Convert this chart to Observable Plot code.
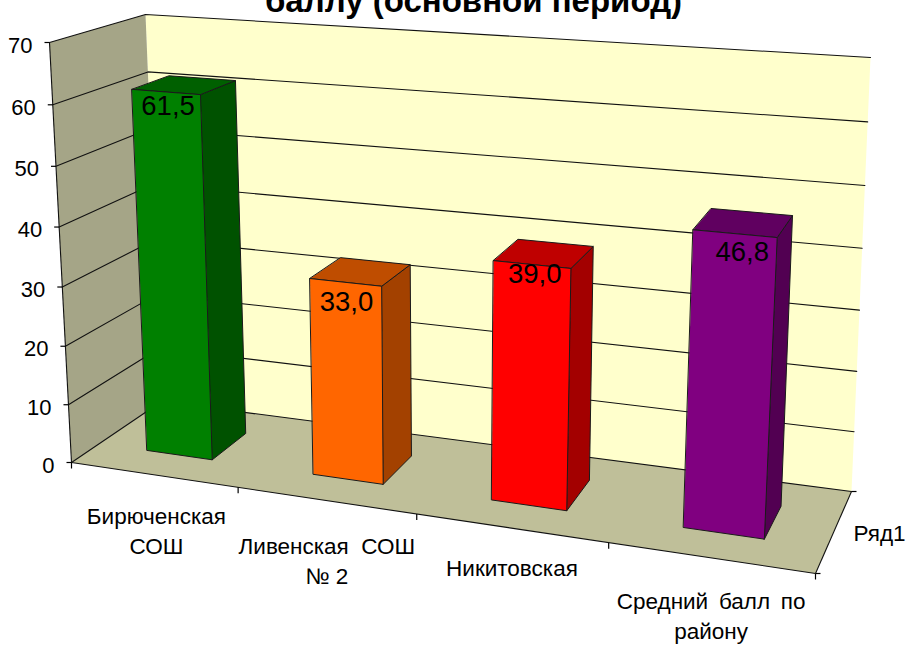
<!DOCTYPE html>
<html>
<head>
<meta charset="utf-8">
<script src="https://cdn.jsdelivr.net/npm/d3@7"></script>
<script src="https://cdn.jsdelivr.net/npm/@observablehq/plot@0.6"></script>
<style>
html,body{margin:0;padding:0;background:#fff;overflow:hidden}
svg{display:block}
</style>
</head>
<body>
<div id="chart"></div>
<script>
// ---------- data ----------
const categories = ["Бирюченская\nСОШ", "Ливенская\u00a0\u00a0СОШ\n№ 2", "Никитовская", "Средний\u00a0\u2009балл\u00a0\u2009по\nрайону"];
const values = [61.5, 33.0, 39.0, 46.8];
const valueLabels = ["61,5", "33,0", "39,0", "46,8"];
const valueTicks = [0, 10, 20, 30, 40, 50, 60, 70];
const seriesName = "Ряд1";
const title = "баллу (основной период)";

// ---------- style ----------
const frontColors = ["#008000", "#ff6600", "#ff0000", "#800080"];
const topColors = ["#006000", "#bf4d00", "#bf0000", "#600060"];
const sideColors = ["#005200", "#a34100", "#a30000", "#520052"];
const wallColor = "#ffffcc", sideWallColor = "#a5a587", floorColor = "#bfbf99";
const font = "Liberation Sans, Arial, sans-serif";

// ---------- box seen in perspective: the 3D scale of the chart ----------
const box = {
  fb0: [71, 462], fb1: [815, 573], bb0: [161, 401], bb1: [851, 491],
  ft0: [49, 42], ft1: [840, 98], bt0: [145, 14], bt1: [870, 57]
};
const vMax = 70;
const warp = (t, k) => t / (1 + k * (1 - t));
const mix = (a, b, t) => [a[0] + (b[0] - a[0]) * t, a[1] + (b[1] - a[1]) * t];
function project(c, v, w) {
  const u = warp(c, 0.155), h = warp(v / vMax, 0.045);
  const bottom = mix(mix(box.fb0, box.fb1, u), mix(box.bb0, box.bb1, u), w);
  const top = mix(mix(box.ft0, box.ft1, u), mix(box.bt0, box.bt1, u), w);
  return mix(bottom, top, h);
}
const n = categories.length;
const halfWidth = 0.05, depth0 = 0.31, depth1 = 0.72;

// ---------- polygons ----------
const polys = [];
function poly(id, fill, corners) {
  corners.forEach(([c, v, w]) => {
    const [x, y] = project(c, v, w);
    polys.push({id, fill, x, y});
  });
}
poly("back", wallColor, [[0, 0, 1], [1, 0, 1], [1, vMax, 1], [0, vMax, 1]]);
poly("left", sideWallColor, [[0, 0, 0], [0, 0, 1], [0, vMax, 1], [0, vMax, 0]]);
poly("floor", floorColor, [[0, 0, 0], [1, 0, 0], [1, 0, 1], [0, 0, 1]]);

const barPolys = [];
values.forEach((v, i) => {
  const c = (i + 0.5) / n, a = c - halfWidth, b = c + halfWidth;
  const face = (id, fill, corners) => corners.forEach(([cc, vv, ww]) => {
    const [x, y] = project(cc, vv, ww);
    barPolys.push({id: id + i, fill, x, y});
  });
  face("side", sideColors[i], [[b, 0, depth0], [b, 0, depth1], [b, v, depth1], [b, v, depth0]]);
  face("top", topColors[i], [[a, v, depth0], [b, v, depth0], [b, v, depth1], [a, v, depth1]]);
  face("front", frontColors[i], [[a, 0, depth0], [b, 0, depth0], [b, v, depth0], [a, v, depth0]]);
});

// ---------- grid lines, axis lines, ticks ----------
const grid = valueTicks.flatMap(v => [[0, v, 0], [0, v, 1], [1, v, 1]].map(p => {
  const [x, y] = project(...p);
  return {v, x, y};
}));
const frame = [
  [[0, 0, 0], [0, vMax, 0]],
  [[0, 0, 0], [1, 0, 0]],
  [[1, 0, 0], [1, 0, 1]]
].map(([p, q]) => {
  const a = project(...p), b = project(...q);
  return {x1: a[0], y1: a[1], x2: b[0], y2: b[1]};
});
const ticks = [];
valueTicks.forEach(v => {
  const [x, y] = project(0, v, 0);
  ticks.push({x1: x - 5, y1: y, x2: x, y2: y});
});
d3.range(n + 1).forEach(i => {
  const [x, y] = project(i / n, 0, 0);
  ticks.push({x1: x, y1: y, x2: x, y2: y + 6});
});
[0, 1].forEach(w => {
  const [x, y] = project(1, 0, w);
  ticks.push({x1: x, y1: y, x2: x + 5, y2: y});
});

// ---------- text ----------
const yLabels = valueTicks.map(v => {
  const [x, y] = project(0, v, 0);
  return {text: String(v), x: x - 17, y: y + 3};
});
const catNudgeX = [3, 1, 1, 1];
const catNudgeY = [28, 32, 27, 30];
const catLabels = categories.map((text, i) => {
  const [x, y] = project((i + 0.5) / n, 0, 0);
  return {text, x: x + catNudgeX[i], y: y + catNudgeY[i]};
});
const valueNudge = [[-16, 21], [-14, 30], [-9, 20], [-1, 29]];
const valLabels = values.map((v, i) => {
  const [x, y] = project((i + 0.5) / n, v, (depth0 + depth1) / 2);
  return {text: valueLabels[i], x: x + valueNudge[i][0], y: y + valueNudge[i][1]};
});
const serLabel = (() => {
  const [x, y] = project(1, 0, 0.5);
  return [{text: seriesName, x: x + 20, y: y + 1}];
})();

const chart = Plot.plot({
  width: 909,
  height: 646,
  margin: 0,
  x: {type: "identity", axis: null},
  y: {type: "identity", axis: null},
  color: {type: "identity"},
  style: {fontFamily: font, background: "#fff"},
  marks: [
    Plot.line(polys, {x: "x", y: "y", z: "id", fill: "fill", stroke: "none", curve: "linear-closed"}),
    Plot.line(grid, {x: "x", y: "y", z: "v", stroke: "#111", strokeWidth: 1.1, curve: "linear"}),
    Plot.link(frame, {x1: "x1", y1: "y1", x2: "x2", y2: "y2", stroke: "#111", strokeWidth: 1.1}),
    Plot.link(ticks, {x1: "x1", y1: "y1", x2: "x2", y2: "y2", stroke: "#000", strokeWidth: 1.2}),
    Plot.line(barPolys, {x: "x", y: "y", z: "id", fill: "fill", stroke: "#1a1a1a", strokeWidth: 1, curve: "linear-closed"}),
    Plot.text(yLabels, {x: "x", y: "y", text: "text", textAnchor: "end", fontSize: 22, fill: "#000"}),
    Plot.text(catLabels, {x: "x", y: "y", text: "text", lineAnchor: "top", lineHeight: 1.34, fontSize: 22.5, fill: "#000"}),
    Plot.text(valLabels, {x: "x", y: "y", text: "text", fontSize: 27.5, fill: "#000"}),
    Plot.text(serLabel, {x: "x", y: "y", text: "text", textAnchor: "start", fontSize: 22.5, fill: "#000"}),
    Plot.text([title], {frameAnchor: "top", dx: 18.5, dy: -12, text: d => d, fontSize: 33, fontWeight: "bold", fill: "#000"})
  ]
});
document.getElementById("chart").append(chart);
</script>
</body>
</html>
